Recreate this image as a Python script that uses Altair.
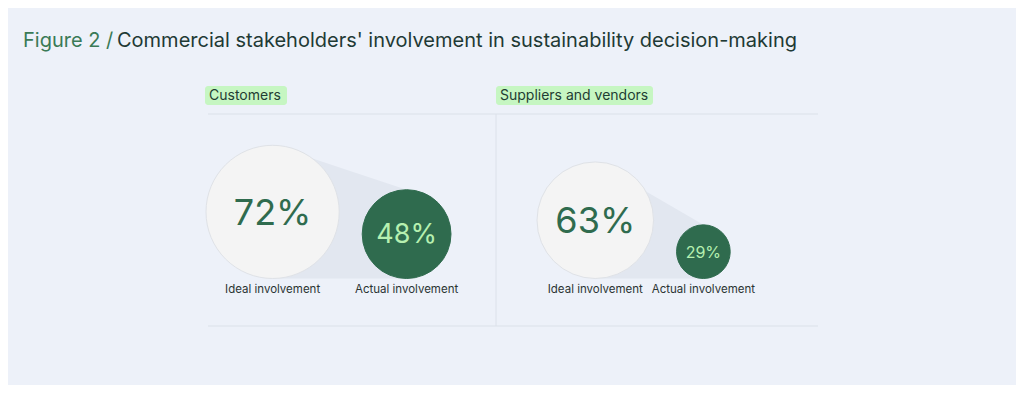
import altair as alt
import pandas as pd

# ---- data ----
groups = ["Customers", "Suppliers and vendors"]
ideal_values = [72, 63]
actual_values = [48, 29]
ideal_label = "Ideal involvement"
actual_label = "Actual involvement"
title_prefix = "Figure 2 /"
title_rest = "Commercial stakeholders' involvement in sustainability decision-making"

# ---- layout (pixel units of the picture) ----
K = 0.925            # radius per percentage point
BASE_Y = 278.5       # common bottom of the circles
GAP = 23             # gap between the two circles
ideal_left = [206, 537]
header_left = [205, 496]
header_w = [82, 157]
TOP_RULE = 114
BOTTOM_RULE = 326

FONT = "Inter"
BG = "#EDF1F9"
DARK_GREEN = "#2F6B4E"
LIGHT_GREEN = "#B6F0B0"
IDEAL_FILL = "#F4F4F4"
CONE = "#E2E7F0"
RULE = "#DCE1EA"
TEXT = "#2B3433"

circles, cones, pct, labels, headers = [], [], [], [], []
for i, g in enumerate(groups):
    ri = K * ideal_values[i]
    ra = K * actual_values[i]
    cxi = ideal_left[i] + ri
    cyi = BASE_Y - ri
    cxa = cxi + ri + GAP + ra
    cya = BASE_Y - ra
    # Vega symbol size = (diameter)^2
    circles.append(dict(g=g, x=cxi, y=cyi, size=(2 * ri) ** 2,
                        fill=IDEAL_FILL, stroke="#DFE2E7"))
    circles.append(dict(g=g, x=cxa, y=cya, size=(2 * ra) ** 2,
                        fill=DARK_GREEN, stroke=DARK_GREEN))
    cones.append(dict(g=g, x=cxi, y=BASE_Y - 2 * ri, y2=BASE_Y))
    cones.append(dict(g=g, x=cxa, y=BASE_Y - 2 * ra, y2=BASE_Y))
    pct.append(dict(g=g, x=cxi, y=cyi + 2, t=f"{ideal_values[i]}%", fs=36, c=DARK_GREEN))
    fs_a = 27 if actual_values[i] > 40 else 16
    pct.append(dict(g=g, x=cxa, y=cya + 1, t=f"{actual_values[i]}%", fs=fs_a, c=LIGHT_GREEN))
    labels.append(dict(x=cxi, y=290, t=ideal_label))
    labels.append(dict(x=cxa, y=290, t=actual_label))
    headers.append(dict(x=header_left[i], x2=header_left[i] + header_w[i],
                        y=86, y2=105, t=g, tx=header_left[i] + 4, ty=96))

df_c = pd.DataFrame(circles)
df_cone = pd.DataFrame(cones)
df_p = pd.DataFrame(pct)
df_l = pd.DataFrame(labels)
df_h = pd.DataFrame(headers)
df_rules_h = pd.DataFrame([dict(x=208, x2=818, y=TOP_RULE), dict(x=208, x2=818, y=BOTTOM_RULE)])
df_rules_v = pd.DataFrame([dict(x=496, y=TOP_RULE, y2=BOTTOM_RULE)])
df_title = pd.DataFrame([dict(x=23, y=47, t=title_prefix, c="#3A7A56"),
                         dict(x=117, y=47, t=title_rest, c="#1F3A35")])

X = alt.Scale(domain=[8, 1016], nice=False, zero=False)
Y = alt.Scale(domain=[8, 385], nice=False, zero=False, reverse=True)


def xq(f="x"):
    return alt.X(f"{f}:Q", scale=X, axis=None)


def yq(f="y"):
    return alt.Y(f"{f}:Q", scale=Y, axis=None)


title_layer = alt.Chart(df_title).mark_text(align="left", baseline="alphabetic",
                                            font=FONT, fontSize=20).encode(
    x=xq(), y=yq(), text="t:N", color=alt.Color("c:N", scale=None))

header_rect = alt.Chart(df_h).mark_rect(cornerRadius=3, color="#C6F6C2").encode(
    x=xq(), x2="x2:Q", y=yq(), y2="y2:Q")
header_text = alt.Chart(df_h).mark_text(align="left", baseline="middle", font=FONT,
                                        fontSize=14, color="#1F3D33").encode(
    x=xq("tx"), y=yq("ty"), text="t:N")

rules_h = alt.Chart(df_rules_h).mark_rule(color=RULE, strokeWidth=1.2).encode(
    x=xq(), x2="x2:Q", y=yq())
rules_v = alt.Chart(df_rules_v).mark_rule(color=RULE, strokeWidth=1).encode(
    x=xq(), y=yq(), y2="y2:Q")

cone = alt.Chart(df_cone).mark_area(color=CONE, orient="vertical", opacity=1).encode(
    x=xq(), y=yq(), y2="y2:Q", detail="g:N")

circ = alt.Chart(df_c).mark_circle(opacity=1, strokeWidth=1).encode(
    x=xq(), y=yq(),
    size=alt.Size("size:Q", scale=None),
    fill=alt.Fill("fill:N", scale=None),
    stroke=alt.Stroke("stroke:N", scale=None))

pct_text = alt.Chart(df_p).mark_text(align="center", baseline="middle", font=FONT).encode(
    x=xq(), y=yq(), text="t:N",
    size=alt.Size("fs:Q", scale=None),
    color=alt.Color("c:N", scale=None))

lab_text = alt.Chart(df_l).mark_text(align="center", baseline="middle", font=FONT,
                                     fontSize=11.5, color=TEXT).encode(
    x=xq(), y=yq(), text="t:N")

chart = alt.layer(title_layer, header_rect, header_text, rules_h, rules_v, cone, circ,
                  pct_text, lab_text).properties(
    width=1008, height=377, background=BG, padding=0,
    autosize=alt.AutoSizeParams(type="none"),
).configure_view(stroke=None)

chart.save("out.html", embed_options={"renderer": "svg", "actions": False})
